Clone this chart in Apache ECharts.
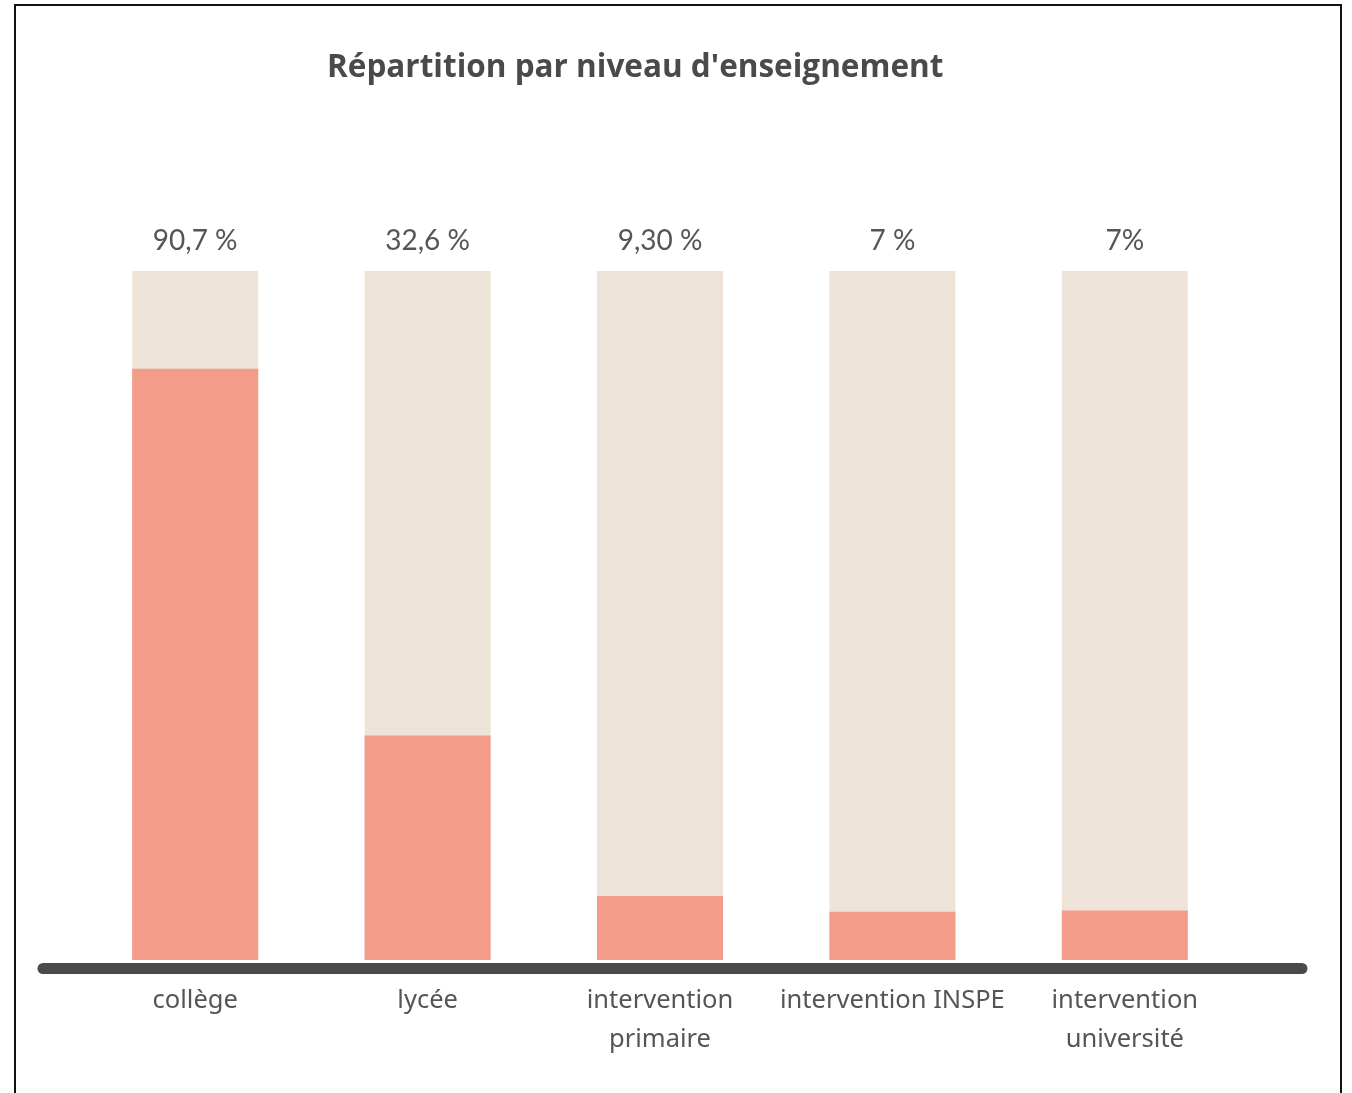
<!DOCTYPE html>
<html lang="fr">
<head>
    <meta charset="UTF-8">
    <title>Répartition par niveau d'enseignement</title>
</head>
<style>
    * {
        margin: 0;
        padding: 0;
    }

    html, body {
        height: 100%;
        background: #fff;
        overflow: hidden;
    }

    .frame {
        position: absolute;
        left: 14px;
        top: 4px;
        width: 1328px;
        height: 1200px;
        border: 2px solid #111;
        box-sizing: border-box;
    }

    .chart {
        position: absolute;
        left: 0;
        top: 0;
        width: 1352px;
        height: 1093px;
    }
</style>
<script src="https://cdn.jsdelivr.net/npm/echarts@6/dist/echarts.min.js"></script>
<body>
<div class="frame"></div>
<div class="chart" id="chart"></div>
</body>
<script>
  // categories (line breaks as in the picture)
  const categories = ['collège', 'lycée', 'intervention\nprimaire', 'intervention INSPE', 'intervention\nuniversité']
  // label texts printed above each bar
  const valueLabels = ['90,7 %', '32,6 %', '9,30 %', '7 %', '7%']
  // filled heights as drawn in the picture (% of the full bar)
  const barHeights = [85.8, 32.6, 9.3, 7, 7.2]
  // full bar = 100 %
  const fullBars = [100, 100, 100, 100, 100]

  const chart = echarts.init(document.getElementById('chart'))

  chart.setOption({
    animation: false,
    title: {
      text: "Répartition par niveau d'enseignement",
      left: 322,
      top: 47,
      textStyle: {
        fontFamily: 'Open Sans',
        fontWeight: 'bold',
        fontSize: 31.5,
        color: '#4a4a4a'
      }
    },
    grid: [
      { left: 79, right: 111, top: 271, bottom: 133 },
      // only carries the thick base line
      { left: 43, right: 50, top: 100, bottom: 125 }
    ],
    xAxis: [
      {
        type: 'category',
        gridIndex: 0,
        data: categories,
        axisLine: { show: false },
        axisTick: { show: false },
        axisLabel: {
          margin: 21,
          interval: 0,
          fontFamily: 'Noto Sans',
          fontSize: 25.5,
          lineHeight: 39,
          color: '#555'
        }
      },
      {
        type: 'value',
        gridIndex: 1,
        min: 0,
        max: 1,
        axisLine: {
          show: true,
          lineStyle: { color: '#4a4a4a', width: 11, cap: 'round' }
        },
        axisTick: { show: false },
        axisLabel: { show: false },
        splitLine: { show: false }
      }
    ],
    yAxis: [
      { type: 'value', gridIndex: 0, min: 0, max: 100, show: false },
      { type: 'value', gridIndex: 1, show: false }
    ],
    series: [
      {
        name: 'total',
        type: 'bar',
        xAxisIndex: 0,
        yAxisIndex: 0,
        barWidth: 126,
        data: fullBars,
        itemStyle: { color: '#eee3d8' },
        label: {
          show: true,
          position: 'top',
          distance: 16,
          fontFamily: 'Lato',
          fontSize: 28,
          color: '#555',
          formatter: p => valueLabels[p.dataIndex]
        },
        silent: true
      },
      {
        name: 'part',
        type: 'bar',
        xAxisIndex: 0,
        yAxisIndex: 0,
        barWidth: 126,
        barGap: '-100%',
        data: barHeights,
        itemStyle: { color: '#f49c8a' },
        silent: true
      }
    ]
  })
</script>
</html>
